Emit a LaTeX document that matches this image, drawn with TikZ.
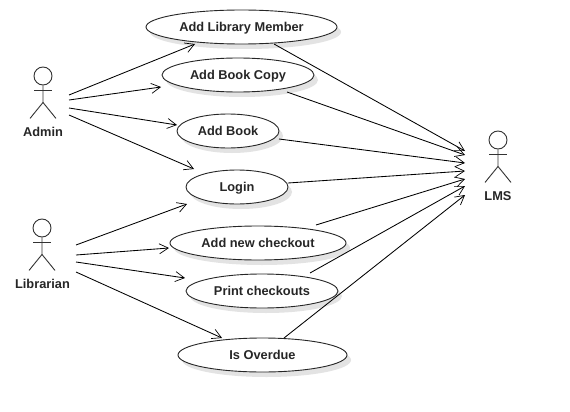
\documentclass[tikz,border=0pt]{standalone}
\usepackage{fontspec}
\setmainfont{Liberation Sans}
\usetikzlibrary{arrows.meta,shapes.geometric,shadows}
\tikzset{
  usecase/.style={draw=black!85,line width=0.9pt,ellipse,fill=white,inner sep=0pt,
    font=\fontsize{12.8}{14}\selectfont\bfseries,text=black!85,text height=9.5pt,text depth=0pt,
    drop shadow={shadow xshift=4pt,shadow yshift=-5pt,fill=black!11,opacity=1}},
  actorlabel/.style={font=\fontsize{12.8}{14}\selectfont\bfseries,text=black!85,inner sep=0pt,text height=9.5pt,text depth=0pt},
  actorline/.style={draw=black!80,line width=0.9pt},
  assoc/.style={draw=black,line width=0.85pt,-{Straight Barb[length=9pt,width=10pt,line width=0.7pt]}},
}
\begin{document}
\begin{tikzpicture}[x=1pt,y=-1pt]
\useasboundingbox[fill=white] (0,0) rectangle (570,412);
% use cases
\node[usecase,minimum width=191pt,minimum height=34pt] (member) at (241.5,27) {Add Library Member};
\node[usecase,minimum width=152pt,minimum height=34pt] (copy) at (238,75) {Add Book Copy};
\node[usecase,minimum width=102pt,minimum height=34pt] (book) at (228,131) {Add Book};
\node[usecase,minimum width=102pt,minimum height=34pt] (login) at (237,187) {Login};
\node[usecase,minimum width=176pt,minimum height=34pt] (checkout) at (258,243) {Add new checkout};
\node[usecase,minimum width=152pt,minimum height=34pt] (print) at (262,291) {Print checkouts};
\node[usecase,minimum width=169pt,minimum height=34pt] (overdue) at (262.5,355) {Is Overdue};
% actors
\node[actorlabel] (admin) at (43,132) {Admin};
\node[actorlabel] (librarian) at (42.5,284) {Librarian};
\node[actorlabel] (lms) at (498,196) {LMS};
\foreach \n/\cx/\cy in {adminfig/43/76,libfig/42/228,lmsfig/498/140}{
  \node[actorline,circle,minimum size=18pt,inner sep=0pt] (\n) at (\cx,\cy) {};
  \draw[actorline] (\n.south) -- ++(0,17) coordinate (\n-hip)
    -- ++(-13,16) coordinate (\n-l);
  \draw[actorline] (\n-hip) -- ++(13,16) coordinate (\n-r);
  \draw[actorline] ([shift={(-9,5)}]\n.south) -- ([shift={(9,5)}]\n.south);
}
% free ends beside the actors
\coordinate (a1) at (69,95);
\coordinate (a2) at (69,100);
\coordinate (a3) at (69,108);
\coordinate (a4) at (69,115);
\coordinate (l1) at (76,245);
\coordinate (l2) at (76,255);
\coordinate (l3) at (76,262);
\coordinate (l4) at (76,272);
% ends next to the use cases
\coordinate (tm) at (195,44);
\coordinate (tc) at (161,87);
\coordinate (tb) at (177,125);
\coordinate (tl) at (194,169);
\coordinate (tl2) at (187,204);
\coordinate (tk) at (169,248);
\coordinate (tp) at (185,278);
\coordinate (to) at (222,338);
\coordinate (fm) at (274,44);
\coordinate (fc) at (287,92);
\coordinate (fb) at (279,139);
\coordinate (fl) at (288,183);
\coordinate (fk) at (316,225);
\coordinate (fp) at (310,273);
\coordinate (fo) at (284,338);
% ends next to LMS
\coordinate (s1) at (465,151);
\coordinate (s2) at (465,155);
\coordinate (s3) at (465,163);
\coordinate (s4) at (465,171);
\coordinate (s5) at (465,179);
\coordinate (s6) at (465,186);
\coordinate (s7) at (465,195);
\draw[assoc] (a1) -- (tm);
\draw[assoc] (a2) -- (tc);
\draw[assoc] (a3) -- (tb);
\draw[assoc] (a4) -- (tl);
\draw[assoc] (l1) -- (tl2);
\draw[assoc] (l2) -- (tk);
\draw[assoc] (l3) -- (tp);
\draw[assoc] (l4) -- (to);
\draw[assoc] (fm) -- (s1);
\draw[assoc] (fc) -- (s2);
\draw[assoc] (fb) -- (s3);
\draw[assoc] (fl) -- (s4);
\draw[assoc] (fk) -- (s5);
\draw[assoc] (fp) -- (s6);
\draw[assoc] (fo) -- (s7);
\end{tikzpicture}
\end{document}
